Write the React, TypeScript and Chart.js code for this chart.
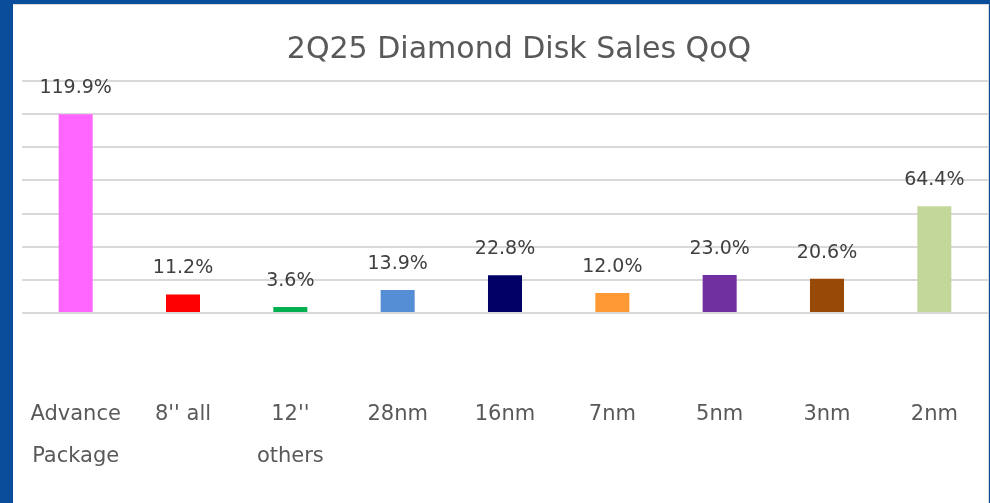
import React, { useEffect, useRef } from "react";
import { Chart, registerables } from "chart.js";

Chart.register(...registerables);

const categories: string[][] = [
  ["Advance", "Package"],
  ["8'' all"],
  ["12''", "others"],
  ["28nm"],
  ["16nm"],
  ["7nm"],
  ["5nm"],
  ["3nm"],
  ["2nm"],
];
const qoqValues: number[] = [119.9, 11.2, 3.6, 13.9, 22.8, 12.0, 23.0, 20.6, 64.4];
const barColors: string[] = [
  "#FF66FF",
  "#FF0000",
  "#00B050",
  "#558ED5",
  "#000066",
  "#FF9933",
  "#7030A0",
  "#984807",
  "#C4D79B",
];
const titleText = "2Q25 Diamond Disk Sales QoQ";
const yMin = 0;
const yMax = 140;
const yStep = 20;

const FONT = "'DejaVu Sans', sans-serif";

const titlePlugin = {
  id: "customTitle",
  afterDraw(chart: any) {
    const ctx = chart.ctx;
    ctx.save();
    ctx.font = `30px ${FONT}`;
    ctx.fillStyle = "#595959";
    ctx.textAlign = "center";
    ctx.textBaseline = "middle";
    ctx.fillText(titleText, 506, 45);
    ctx.restore();
  },
};

const dataLabelPlugin = {
  id: "dataLabels",
  afterDatasetsDraw(chart: any) {
    const ctx = chart.ctx;
    const meta = chart.getDatasetMeta(0);
    const ds = chart.data.datasets[0];
    ctx.save();
    ctx.font = `19px ${FONT}`;
    ctx.fillStyle = "#404040";
    ctx.textAlign = "center";
    ctx.textBaseline = "middle";
    meta.data.forEach((bar: any, i: number) => {
      const v = ds.data[i] as number;
      ctx.fillText(v.toFixed(1) + "%", bar.x, bar.y - 26);
    });
    ctx.restore();
  },
};

export default function App() {
  const ref = useRef<HTMLCanvasElement | null>(null);
  useEffect(() => {
    if (!ref.current) return;
    const chart = new Chart(ref.current, {
      type: "bar",
      data: {
        labels: categories,
        datasets: [
          {
            data: qoqValues,
            backgroundColor: barColors,
            borderWidth: 0,
            categoryPercentage: 1,
            barPercentage: 0.317,
          },
        ],
      },
      options: {
        animation: false,
        responsive: false,
        maintainAspectRatio: false,
        layout: { padding: { left: 9, right: 0, top: 76, bottom: 25 } },
        plugins: {
          legend: { display: false },
          tooltip: { enabled: false },
          title: { display: false },
        },
        scales: {
          x: {
            grid: {
              display: true,
              drawOnChartArea: false,
              drawTicks: true,
              tickLength: 81,
              color: "rgba(0,0,0,0)",
            },
            border: { display: false },
            ticks: {
              color: "#595959",
              font: { family: FONT, size: 21, lineHeight: 2 },
              padding: 0,
              maxRotation: 0,
              autoSkip: false,
            },
          },
          y: {
            min: yMin,
            max: yMax,
            grid: { color: "#D9D9D9", lineWidth: 2, drawTicks: false },
            border: { display: false },
            ticks: { display: false, stepSize: yStep },
          },
        },
      },
      plugins: [dataLabelPlugin, titlePlugin],
    });
    return () => chart.destroy();
  }, []);

  return (
    <div
      style={{
        position: "fixed",
        left: 0,
        top: 0,
        width: 990,
        height: 503,
        background: "#0A4E9B",
        overflow: "hidden",
      }}
    >
      <div
        style={{
          position: "absolute",
          left: 13,
          top: 4,
          width: 975,
          height: 499,
          background: "#FFFFFF",
          borderTop: "1px solid #D9D9D9",
          borderRight: "1px solid #D9D9D9",
        }}
      >
        <canvas ref={ref} width={975} height={498} style={{ display: "block" }} />
      </div>
    </div>
  );
}
